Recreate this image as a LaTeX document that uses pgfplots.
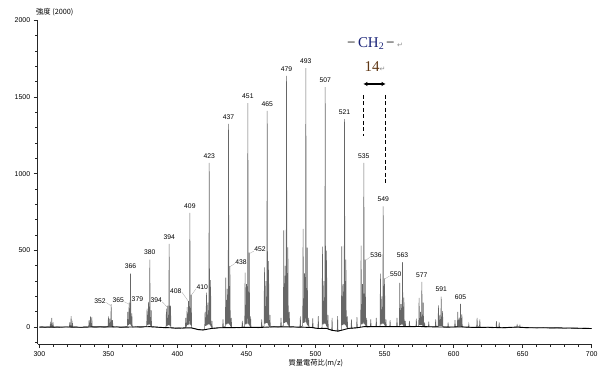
\documentclass[border=0pt]{standalone}
\usepackage{pgfplots}
\pgfplotsset{compat=1.18}
\usetikzlibrary{arrows.meta}
\usepackage{fontspec}
\setmainfont{Liberation Sans}
\newfontfamily\jp{Noto Sans CJK JP}
\newfontfamily\serifen{Liberation Serif}
\newfontfamily\dejavu{DejaVu Sans}
\definecolor{navy}{RGB}{25,35,120}
\definecolor{fourteen}{RGB}{95,55,20}
\begin{document}
\begin{tikzpicture}
\begin{axis}[
  scale only axis, width=554bp, height=323.7bp,
  xmin=298.8, xmax=700, ymin=-110, ymax=2000,
  axis x line=bottom, axis y line=left,
  axis line style={black!85, line width=0.7pt, -},
  xtick={300,350,...,700}, minor xtick={310,320,...,690},
  ytick={0,500,1000,1500,2000}, minor ytick={-100,100,200,...,1900},
  tick align=outside, major tick length=4bp, minor tick length=2.5bp,
  tick style={black!85, line width=0.6pt},
  ticklabel style={font=\fontsize{7}{8}\selectfont},
  /pgf/number format/assume math mode=true,
  /pgf/number format/1000 sep={},
  clip=false,
]
\addplot[black!60, line width=0.55pt] coordinates {
(300,0)(302,3)(304,-2)(306,2)(307.7,0)(308,25)(308.3,2)(308.7,2)(309,60)(309.3,0)(309.7,0)(310,20)(310.3,-2)
(313,2)(316,-3)(319,2)(321.7,0)(322,30)(322.3,0)(322.7,0)(323,72)(323.3,0)(323.7,0)(324,25)(324.3,0)
(327,2)(330,-3)(333,2)(335.7,0)(336,45)(336.3,5)(336.7,5)(337,70)(337.3,5)(337.7,5)(338,65)(338.3,0)
(341,-2)(344,2)(347,-2)(349.7,2)(350,70)(350.3,10)(350.7,10)(351,55)(351.3,10)(351.7,10)(352,150)(352.3,10)(352.7,5)(353,45)(353.3,0)
(356,3)(359,-2)(362,2)(363.7,5)(364,100)(364.3,15)(364.7,15)(365,160)(365.3,20)(365.7,20)(366,349)(366.3,15)(366.7,10)(367,90)(367.3,0)
(370,3)(373,-2)(376,2)(377.7,5)(378,120)(378.3,15)(378.7,15)(379,165)(379.3,20)(379.7,20)(380,440)(380.3,15)(380.7,10)(381,110)(381.3,0)
(384,2)(387,-3)(390,-2)(391.7,-5)(392,120)(392.3,10)(392.7,10)(393,140)(393.3,15)(393.7,15)(394,543)(394.3,15)(394.7,10)(395,140)(395.3,-5)
(398,-8)(401,-5)(404,-8)(405.7,-5)(406,60)(406.3,5)(406.7,5)(407,130)(407.3,15)(407.7,15)(408,170)(408.3,20)(408.7,20)(409,744)(409.3,20)(409.7,15)(410,210)(410.3,-5)
(413,-10)(416,-18)(418,-20)(419.7,-15)(420,100)(420.3,10)(420.7,10)(421,225)(421.3,15)(421.7,15)(422,160)(422.3,20)(422.7,20)(423,1071)(423.3,20)(423.7,15)(424,306)(424.3,5)(424.7,0)(425,40)(425.3,-10)
(428,-8)(431,-3)(432.7,0)(433,50)(433.3,0)(434.7,5)(435,323)(435.3,20)(435.7,20)(436,250)(436.3,25)(436.7,25)(437,1325)(437.3,25)(437.7,20)(438,397)(438.3,10)(438.7,5)(439,60)(439.3,-3)
(442,-3)(445,-5)(446.7,0)(447,40)(447.3,0)(448.7,5)(449,356)(449.3,20)(449.7,20)(450,280)(450.3,25)(450.7,25)(451,1460)(451.3,25)(451.7,20)(452,485)(452.3,10)(452.7,5)(453,70)(453.3,-3)
(456,-2)(459,-5)(460.7,0)(461,50)(461.3,0)(462.7,5)(463,390)(463.3,25)(463.7,25)(464,300)(464.3,30)(464.7,30)(465,1410)(465.3,30)(465.7,20)(466,430)(466.3,10)(466.7,5)(467,80)(467.3,0)
(470,3)(473,0)(474.7,3)(475,60)(475.3,3)(476.7,10)(477,631)(477.3,30)(477.7,30)(478,400)(478.3,35)(478.7,35)(479,1637)(479.3,35)(479.7,25)(480,520)(480.3,15)(480.7,10)(481,100)(481.3,0)
(484,2)(487,-3)(488.7,0)(489,70)(489.3,0)(490.7,10)(491,640)(491.3,30)(491.7,30)(492,350)(492.3,35)(492.7,35)(493,1688)(493.3,35)(493.7,25)(494,518)(494.3,15)(494.7,10)(495,60)(495.3,0)
(497.7,0)(498,57)(498.3,-5)(500,-8)(501.7,-8)(502,72)(502.3,-10)(504.7,-5)(505,525)(505.3,20)(505.7,20)(506,300)(506.3,25)(506.7,25)(507,1564)(507.3,25)(507.7,15)(508,499)(508.3,5)(508.7,0)(509,80)(509.3,-15)
(511.7,-20)(512,60)(512.3,-22)(515.7,-25)(516,72)(516.3,-28)(518.7,-20)(519,527)(519.3,15)(519.7,15)(520,280)(520.3,20)(520.7,20)(521,1356)(521.3,20)(521.7,15)(522,440)(522.3,5)(522.7,0)(523,70)(523.3,-10)
(525.7,-8)(526,50)(526.3,-8)(529.7,-5)(530,65)(530.3,-5)(532.7,0)(533,531)(533.3,20)(533.7,20)(534,280)(534.3,25)(534.7,25)(535,1070)(535.3,25)(535.7,20)(536,440)(536.3,10)(536.7,5)(537,60)(537.3,0)
(539.7,3)(540,50)(540.3,3)(543.7,3)(544,60)(544.3,3)(546.7,5)(547,349)(547.3,20)(547.7,20)(548,200)(548.3,25)(548.7,25)(549,787)(549.3,25)(549.7,20)(550,317)(550.3,10)(550.7,5)(551,50)(551.3,3)
(553.7,3)(554,45)(554.3,3)(558.7,3)(559,60)(559.3,3)(560.7,5)(561,289)(561.3,15)(561.7,15)(562,150)(562.3,20)(562.7,20)(563,423)(563.3,15)(563.7,10)(564,193)(564.3,5)(564.7,3)(565,40)(565.3,3)
(567.7,3)(568,40)(568.3,3)(572.7,3)(573,55)(573.3,3)(574.7,5)(575,191)(575.3,15)(575.7,15)(576,100)(576.3,15)(576.7,15)(577,295)(577.3,15)(577.7,10)(578,159)(578.3,5)(578.7,3)(579,30)(579.3,0)
(581.7,2)(582,35)(582.3,2)(586.7,2)(587,50)(587.3,3)(588.7,5)(589,141)(589.3,10)(589.7,10)(590,80)(590.3,10)(590.7,10)(591,198)(591.3,10)(591.7,8)(592,104)(592.3,3)
(595.7,0)(596,30)(596.3,0)(600.7,0)(601,45)(601.3,0)(602.7,3)(603,100)(603.3,8)(603.7,8)(604,60)(604.3,8)(604.7,8)(605,152)(605.3,8)(605.7,5)(606,83)(606.3,0)
(610.7,-2)(611,20)(611.3,-2)(614,-3)(616.7,0)(617,61)(617.3,5)(618.7,5)(619,50)(619.3,-3)(622,-3)(625,0)(628,-5)(630.7,-2)(631,39)(631.3,0)(632.7,0)(633,30)(633.3,-3)
(637,-5)(641,-3)(645.7,0)(646,15)(646.3,5)(647.7,5)(648,12)(648.3,-2)(652,-5)(656,-3)(660,-6)(665,-4)(670,-7)(675,-5)(680,-8)(685,-6)(690,-9)(695,-7)(700,-9)
};
\addplot[black, line width=0.9pt] coordinates {
(300,0)(310,0)(320,1)(330,-1)(340,2)(350,2)(360,0)(370,1)(380,3)(390,-3)(395,-4)(400,-7)(405,-5)(410,-5)(415,-16)(419,-18)(425,-8)(430,-4)(440,-3)(450,-2)(460,-2)(470,2)(480,2)(490,0)(498,-3)(502,-9)(508,-8)(512,-21)(516,-26)(519,-20)(524,-8)(530,-4)(535,3)(545,3)(555,3)(565,3)(575,4)(585,2)(595,0)(605,2)(615,-2)(625,-1)(635,-4)(645,0)(655,-4)(665,-4)(675,-5)(685,-6)(700,-9)
};
% main peak labels
\tikzset{pl/.style={font=\fontsize{6.8}{7}\selectfont, anchor=south, inner sep=0.5bp, yshift=4bp}}
\node[pl] at (axis cs:366,349) {366};
\node[pl] at (axis cs:380,440) {380};
\node[pl] at (axis cs:394,543) {394};
\node[pl] at (axis cs:409,744) {409};
\node[pl] at (axis cs:423,1071) {423};
\node[pl] at (axis cs:437,1325) {437};
\node[pl] at (axis cs:451,1460) {451};
\node[pl] at (axis cs:465,1410) {465};
\node[pl] at (axis cs:479,1637) {479};
\node[pl] at (axis cs:493,1688) {493};
\node[pl] at (axis cs:507,1564) {507};
\node[pl] at (axis cs:521,1356) {521};
\node[pl] at (axis cs:535,1070) {535};
\node[pl] at (axis cs:549,787) {549};
\node[pl] at (axis cs:563,423) {563};
\node[pl] at (axis cs:577,295) {577};
\node[pl] at (axis cs:591,198) {591};
\node[pl] at (axis cs:605,152) {605};
% secondary labels with leaders
\tikzset{sl/.style={font=\fontsize{6.8}{7}\selectfont, inner sep=0.5bp}, ld/.style={black!35, line width=0.3pt}}
\node[sl] at (axis cs:344,169) {352};
\draw[ld] (axis cs:348.5,160) -- (axis cs:351.6,140);
\node[sl] at (axis cs:357.2,174) {365};
\draw[ld] (axis cs:361.5,165) -- (axis cs:364.8,150);
\node[sl] at (axis cs:371,180) {379};
\draw[ld] (axis cs:366.5,172) -- (axis cs:366.2,160);
\node[sl] at (axis cs:384.7,174) {394};
\draw[ld] (axis cs:389,165) -- (axis cs:392.6,130);
\node[sl] at (axis cs:398.8,237) {408};
\draw[ld] (axis cs:403.2,228) -- (axis cs:407.8,170);
\node[sl] at (axis cs:418,260) {410};
\draw[ld] (axis cs:413.5,250) -- (axis cs:410.2,210);
\node[sl] at (axis cs:446.1,425) {438};
\draw[ld] (axis cs:441.6,415) -- (axis cs:438.2,395);
\node[sl] at (axis cs:459.8,505) {452};
\draw[ld] (axis cs:455.3,495) -- (axis cs:452.2,480);
\node[sl] at (axis cs:543.8,468) {536};
\draw[ld] (axis cs:539.3,455) -- (axis cs:536.3,435);
\node[sl] at (axis cs:558.1,343) {550};
\draw[ld] (axis cs:553.6,333) -- (axis cs:550.3,315);
% CH2 annotation
\node[font=\serifen\fontsize{15}{15}\selectfont, inner sep=0pt] at (axis cs:543.1,1850)
  {−\,\textcolor{navy}{CH\raisebox{-0.3ex}{\fontsize{10}{10}\selectfont 2}}\,−\,{\dejavu\fontsize{7}{7}\selectfont\color{black!45}↵}};
\node[font=\serifen\fontsize{15}{15}\selectfont, inner sep=0pt] at (axis cs:543.1,1698)
  {\textcolor{fourteen}{14}{\dejavu\fontsize{7}{7}\selectfont\color{black!45}↵}};
\draw[{Latex[length=4bp,width=4.5bp]}-{Latex[length=4bp,width=4.5bp]}, line width=1.1pt] (axis cs:534.6,1585) -- (axis cs:550.8,1585);
\draw[line width=0.9pt, dash pattern=on 4bp off 2.5bp] (axis cs:534.6,1514) -- (axis cs:534.6,1243);
\draw[line width=0.9pt, dash pattern=on 4bp off 2.5bp] (axis cs:550.8,1514) -- (axis cs:550.8,941);
% axis titles
\node[font=\jp\fontsize{7.3}{8}\selectfont, anchor=west, inner sep=0pt, xshift=-1.7bp, yshift=7.8bp] at (rel axis cs:0,1) {強度 (2000)};
\node[font=\jp\fontsize{7.3}{8}\selectfont, inner sep=0pt, yshift=-19bp] at (rel axis cs:0.502,0) {質量電荷比(m/z)};
\end{axis}
\pgfresetboundingbox
\path ([shift={(-37.7bp,-28bp)}]current axis.south west) rectangle ([shift={(17.3bp,20.3bp)}]current axis.north east);
\end{tikzpicture}
\end{document}
